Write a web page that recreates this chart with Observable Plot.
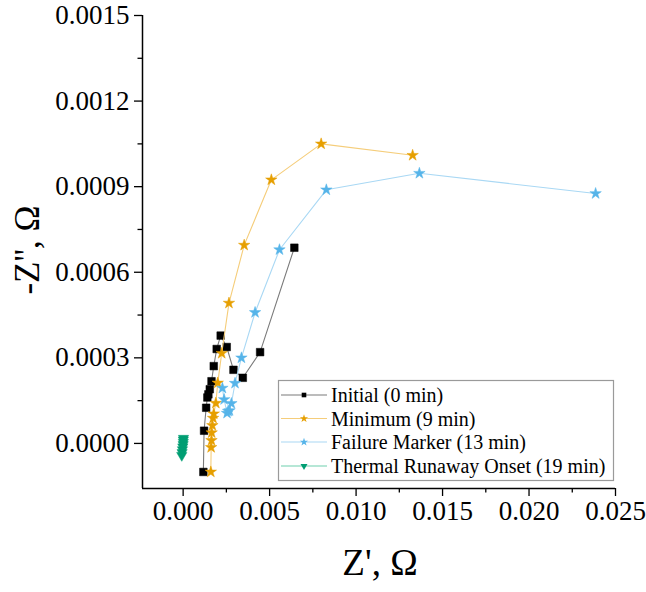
<!DOCTYPE html>
<html>
<head>
<meta charset="utf-8">
<script src="https://cdn.jsdelivr.net/npm/d3@7"></script>
<script src="https://cdn.jsdelivr.net/npm/@observablehq/plot@0.6"></script>
<style>
  html, body { margin: 0; padding: 0; background: #fff; }
  #chart { width: 646px; height: 592px; }
</style>
</head>
<body>
<div id="chart"></div>
<script>
// ---- data ----
const seriesNames = ["Initial (0 min)", "Minimum (9 min)", "Failure Marker (13 min)", "Thermal Runaway Onset (19 min)"];

const initialX = [0.00117, 0.00121, 0.00133, 0.00140, 0.00146, 0.00154, 0.00164, 0.00177, 0.00194, 0.00217, 0.00252, 0.00291, 0.00345, 0.00445, 0.00643];
const initialY = [-0.000100, 0.0000445, 0.000125, 0.000161, 0.000172, 0.000190, 0.000218, 0.000271, 0.000331, 0.000378, 0.000338, 0.000258, 0.000230, 0.000320, 0.000686];

const minimumX = [0.00160, 0.00162, 0.00164, 0.00165, 0.00169, 0.00173, 0.00177, 0.00189, 0.00200, 0.00223, 0.00265, 0.00353, 0.00510, 0.00798, 0.01327];
const minimumY = [-0.000100, -0.000014, 0.0000105, 0.0000375, 0.000063, 0.0000886, 0.000104, 0.000141, 0.000212, 0.000316, 0.000492, 0.000695, 0.000924, 0.00105, 0.00101];

const failureX = [0.00227, 0.00237, 0.00254, 0.00260, 0.00268, 0.00279, 0.00300, 0.00337, 0.00416, 0.00557, 0.00828, 0.01366, 0.02385];
const failureY = [0.000194, 0.000154, 0.000106, 0.000113, 0.000115, 0.000140, 0.000211, 0.000300, 0.000459, 0.000679, 0.000889, 0.000947, 0.000876];

const onsetX = [0.00002, 0.00001, 0.00001, 0.00000, -0.00002, -0.00004, -0.00006, -0.00008];
const onsetY = [0.000018, 0.000012, 0.000004, -0.000004, -0.000012, -0.000022, -0.000032, -0.000042];

const xMajorTicks = [0, 0.005, 0.010, 0.015, 0.020, 0.025];
const xMinorTicks = [0.0025, 0.0075, 0.0125, 0.0175, 0.0225];
const yMajorTicks = [0, 0.0003, 0.0006, 0.0009, 0.0012, 0.0015];
const yMinorTicks = [0.00015, 0.00045, 0.00075, 0.00105, 0.00135];

const xTitle = "Z', Ω";
const yTitle = "-Z'', Ω";

// ---- styles ----
const styles = [
  {marker: "#000000", line: "#7a7a7a", symbol: "square", r: 4.3, rotate: 0},
  {marker: "#E69F00", line: "#F5CD7A", symbol: "star", r: 3.6, rotate: 0},
  {marker: "#56B4E9", line: "#A9D8F4", symbol: "star", r: 3.6, rotate: 0},
  {marker: "#009E73", line: "#6FCFAE", symbol: "triangle", r: 3.8, rotate: 180}
];

const xDomain = [-0.00235, 0.025];
const yDomain = [-0.000158, 0.0015];

const seriesXs = [initialX, minimumX, failureX, onsetX];
const seriesYs = [initialY, minimumY, failureY, onsetY];
const series = seriesNames.map((name, i) =>
  seriesXs[i].map((x, j) => ({name, x, y: seriesYs[i][j]})));

const font = "'Liberation Serif', 'Times New Roman', Times, serif";

const marks = [];
// axes
marks.push(Plot.axisX(xMinorTicks, {tickSize: 4.5, text: null, label: null, strokeWidth: 1.3}));
marks.push(Plot.axisX(xMajorTicks, {tickSize: 8, tickPadding: 4, strokeWidth: 1.3, tickFormat: d3.format(".3f"), fontSize: 27, label: null}));
marks.push(Plot.axisY(yMinorTicks, {tickSize: 4.5, text: null, label: null, strokeWidth: 1.3}));
marks.push(Plot.axisY(yMajorTicks, {tickSize: 8, tickPadding: 5, strokeWidth: 1.3, tickFormat: d3.format(".4f"), fontSize: 27, label: null}));
marks.push(Plot.ruleX([xDomain[0]], {stroke: "#000", strokeWidth: 1.5}));
marks.push(Plot.ruleY([yDomain[0]], {stroke: "#000", strokeWidth: 1.5}));

series.forEach((data, i) => {
  const s = styles[i];
  marks.push(Plot.line(data, {x: "x", y: "y", stroke: s.line, strokeWidth: 1.1}));
  marks.push(Plot.dot(data, {x: "x", y: "y", symbol: () => s.symbol, fill: s.marker, stroke: s.marker, strokeWidth: 0.5, r: s.r, rotate: s.rotate}));
});

const plot = Plot.plot({
  width: 646,
  height: 592,
  marginLeft: 142,
  marginRight: 31,
  marginTop: 15,
  marginBottom: 104,
  style: {fontFamily: font, color: "#000", background: "#fff", overflow: "visible"},
  x: {domain: xDomain, axis: null},
  y: {domain: yDomain, axis: null},
  symbol: {type: "identity"},
  marks
});

document.getElementById("chart").appendChild(plot);

// ---- titles & legend (text) ----
const svg = d3.select(plot);
svg.append("text")
  .attr("x", 380).attr("y", 575)
  .attr("text-anchor", "middle")
  .attr("font-family", font).attr("font-size", 37)
  .attr("fill", "#000")
  .text(xTitle);
svg.append("text")
  .attr("transform", "translate(39,250) rotate(-90)")
  .attr("text-anchor", "middle")
  .attr("font-family", font).attr("font-size", 35)
  .attr("fill", "#000")
  .text(yTitle);

const lg = svg.append("g");
lg.append("rect")
  .attr("x", 278.5).attr("y", 380.5).attr("width", 335).attr("height", 100)
  .attr("fill", "#fff").attr("stroke", "#9a9a9a").attr("stroke-width", 1.2);
const rowY = [395, 418.5, 442, 466];
seriesNames.forEach((name, i) => {
  const s = styles[i];
  const yy = rowY[i];
  lg.append("line").attr("x1", 281).attr("x2", 327).attr("y1", yy).attr("y2", yy)
    .attr("stroke", s.line).attr("stroke-width", 1.2);
  const sym = {square: d3.symbolSquare, star: d3.symbolStar, triangle: d3.symbolTriangle}[s.symbol];
  lg.append("path").attr("d", d3.symbol(sym, Math.PI * 2.6 * 2.6)())
    .attr("transform", `translate(304,${yy}) rotate(${s.rotate})`)
    .attr("fill", s.marker);
  lg.append("text").attr("x", 331).attr("y", yy).attr("dy", "0.35em")
    .attr("text-anchor", "start")
    .attr("font-family", font).attr("font-size", 20).attr("fill", "#000")
    .text(name);
});
</script>
</body>
</html>
